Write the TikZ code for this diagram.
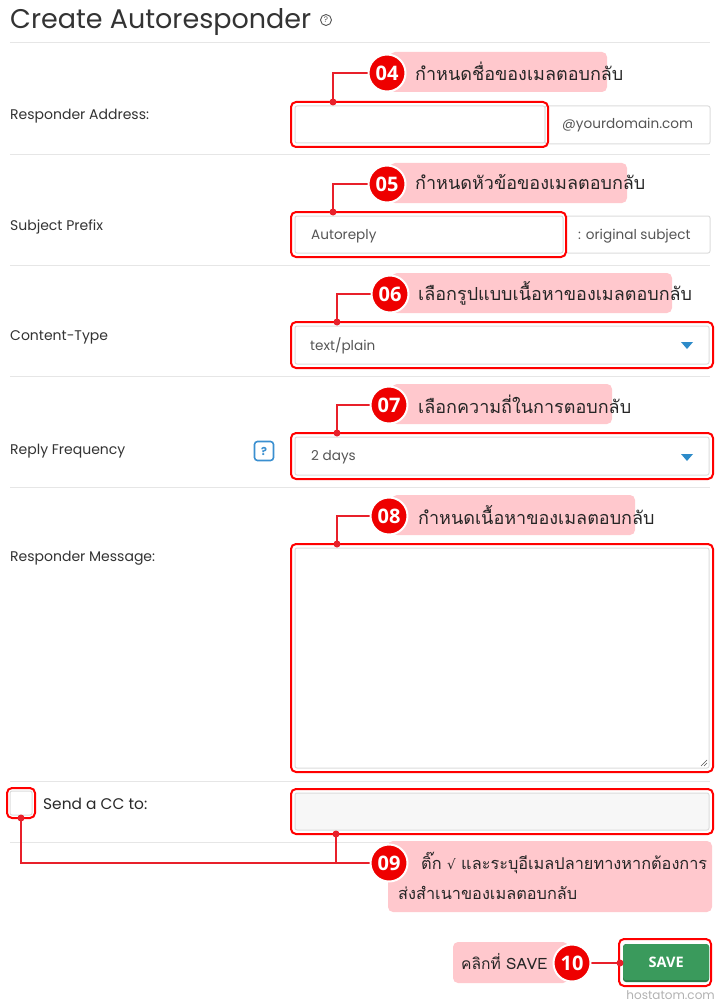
\documentclass[tikz,border=0pt]{standalone}
\usepackage{fontspec}
\setmainfont{Poppins}
\newfontfamily\lab{Poppins}
\newfontfamily\thai[Script=Thai]{Loma}
\newfontfamily\dejavu{DejaVu Sans}
\newfontfamily\numf{Open Sans}
\definecolor{txtgray}{HTML}{333333}
\definecolor{intext}{HTML}{555555}
\definecolor{sepgray}{HTML}{E6E6E6}
\definecolor{bordergray}{HTML}{DCDCDC}
\definecolor{hlred}{HTML}{FF0000}
\definecolor{numred}{HTML}{EE0000}
\definecolor{connred}{HTML}{E8202A}
\definecolor{pink1}{HTML}{FFC8CD}
\definecolor{caretblue}{HTML}{2D8BC9}
\definecolor{helpblue}{HTML}{3A8FD0}
\definecolor{savegreen}{HTML}{3A9A5C}
\definecolor{savedark}{HTML}{2B7A47}
\definecolor{ccfill}{HTML}{F7F7F7}
\begin{document}
\begin{tikzpicture}[x=1pt,y=-1pt,
  lbl/.style={anchor=west, inner sep=0, text=txtgray, font=\lab\fontsize{14}{16}\selectfont},
  intxt/.style={anchor=west, inner sep=0, text=intext, font=\lab\fontsize{13.6}{15}\selectfont},
  redbox/.style={draw=hlred, line width=2pt, rounded corners=5pt, anchor=north west, inner sep=0, outer sep=0},
  inputbox/.style={draw=bordergray, line width=1pt, rounded corners=2pt, fill=white, anchor=north west, inner sep=0, outer sep=0},
  pinkbox/.style={fill=pink1, rounded corners=5pt, anchor=north west, inner sep=0, outer sep=0},
  thaitxt/.style={anchor=west, inner sep=0, text=black!85, font=\thai\fontsize{18}{20}\selectfont},
  thaism/.style={anchor=west, inner sep=0, text=black!85, font=\thai\fontsize{16.3}{18}\selectfont},
  numc/.style={circle, fill=numred, draw=white, line width=2pt, minimum size=37pt, inner sep=0, text=white, font=\numf\bfseries\fontsize{20}{20}\selectfont},
  conn/.style={draw=connred, line width=1.6pt},
  dotn/.style={circle, fill=connred, minimum size=7pt, inner sep=0},
  sep/.style={draw=sepgray, line width=1pt},
  caret/.style={fill=caretblue}
]
\useasboundingbox (0,0) rectangle (720,1003);
\fill[white] (0,0) rectangle (720,1003);

% title
\node[anchor=base west, inner sep=0, text=txtgray, font=\lab\fontsize{27}{30}\selectfont] (title) at (10,29) {Create Autoresponder};
\node[circle, draw=intext, line width=0.9pt, minimum size=11pt, inner sep=0, text=intext, font=\lab\fontsize{8}{8}\selectfont] (thelp) at (326,20) {?};

% separators
\coordinate (s0l) at (10,43); \coordinate (s0r) at (710,43);
\coordinate (s1l) at (10,155); \coordinate (s1r) at (710,155);
\coordinate (s2l) at (10,265); \coordinate (s2r) at (710,265);
\coordinate (s3l) at (10,376); \coordinate (s3r) at (710,376);
\coordinate (s4l) at (10,487); \coordinate (s4r) at (710,487);
\coordinate (s5l) at (10,781); \coordinate (s5r) at (710,781);
\coordinate (s6l) at (10,842); \coordinate (s6r) at (710,842);
\foreach \i in {0,...,6} {\draw[sep] (s\i l) -- (s\i r);}

% labels
\node[lbl] (l1) at (10,116) {Responder Address:};
\node[lbl] (l2) at (10,227) {Subject Prefix};
\node[lbl] (l3) at (10,337) {Content-Type};
\node[lbl] (l4) at (10,451) {Reply Frequency};
\node[lbl] (l5) at (10,558) {Responder Message:};
\node[anchor=west, inner sep=0, text=txtgray!80!black, font=\lab\fontsize{15.4}{17}\selectfont] (l6) at (43,804) {Send a CC to:};

% help icon
\node[draw=helpblue, line width=1.6pt, rounded corners=3pt, minimum width=19pt, minimum height=19pt, inner sep=0, text=helpblue, font=\lab\bfseries\fontsize{11}{11}\selectfont] (help) at (264,451) {?};

% row 1 inputs
\node[inputbox, minimum width=250pt, minimum height=37pt] (in1) at (295,106) {};
\node[inputbox, minimum width=165pt, minimum height=38pt] (ad1) at (545,106) {};
\node[intxt] (ad1t) at (562,125) {@yourdomain.com};
% row 2
\node[inputbox, minimum width=268pt, minimum height=37pt] (in2) at (295,216) {};
\node[inputbox, minimum width=144pt, minimum height=37pt] (ad2) at (566,216) {};
\node[intxt] (ad2t) at (578,236) {: original subject};
\node[intxt] (in2t) at (311,236) {Autoreply};
% row 3
\node[inputbox, minimum width=414pt, minimum height=38pt] (in3) at (295,326) {};
\node[intxt] (in3t) at (310,346) {text/plain};
\fill[caret] (681,342) -- (693,342) -- (687,349) -- cycle;
% row 4
\node[inputbox, minimum width=414pt, minimum height=38pt] (in4) at (295,437) {};
\node[intxt] (in4t) at (311,457) {2 days};
\fill[caret] (681,454) -- (693,454) -- (687,461) -- cycle;
% row 5
\node[inputbox, minimum width=414pt, minimum height=220pt] (in5) at (295,548) {};
\draw[intext, line width=0.6pt] (701,766) -- (707,760) (704,766) -- (707,763);
% row 6
\node[inputbox, minimum width=22pt, minimum height=24pt] (cbin) at (10,791) {};
\node[inputbox, fill=ccfill, minimum width=414pt, minimum height=37pt] (in6) at (295,793) {};

% red highlight boxes
\node[redbox, minimum width=257pt, minimum height=45pt] (r1) at (291,102) {};
\node[redbox, minimum width=275pt, minimum height=45pt] (r2) at (291,212) {};
\node[redbox, minimum width=422pt, minimum height=46pt] (r3) at (291,322) {};
\node[redbox, minimum width=422pt, minimum height=46pt] (r4) at (291,433) {};
\node[redbox, minimum width=422pt, minimum height=228pt] (r5) at (291,544) {};
\node[redbox, minimum width=28pt, minimum height=30pt] (rcb) at (7,788) {};
\node[redbox, minimum width=422pt, minimum height=45pt] (r6) at (291,789) {};

% save button
\node[redbox, minimum width=92pt, minimum height=47pt] (rsave) at (619,939) {};
\fill[savedark, rounded corners=3pt] (623,944) rectangle (709,982);
\node[fill=savegreen, rounded corners=3pt, anchor=north west, minimum width=86pt, minimum height=36pt, inner sep=0, text=white, font=\numf\bfseries\fontsize{14.5}{15}\selectfont] (save) at (623,944) {SAVE};

% pink callouts
\node[pinkbox, minimum width=217pt, minimum height=40pt] (p4) at (390,52) {};
\node[pinkbox, minimum width=237pt, minimum height=40pt] (p5) at (390,163) {};
\node[pinkbox, minimum width=280pt, minimum height=40pt] (p6) at (392,273) {};
\node[pinkbox, minimum width=220pt, minimum height=40pt] (p7) at (392,384) {};
\node[pinkbox, minimum width=243pt, minimum height=40pt] (p8) at (392,495) {};
\node[pinkbox, minimum width=324pt, minimum height=71pt] (p9) at (388,841) {};
\node[pinkbox, minimum width=115pt, minimum height=41pt] (p10) at (453,942) {};

\node[thaitxt] (t4) at (415,71) {กำหนดชื่อของเมลตอบกลับ};
\node[thaitxt] (t5) at (415,182) {กำหนดหัวข้อของเมลตอบกลับ};
\node[thaitxt] (t6) at (418,293) {เลือกรูปแบบเนื้อหาของเมลตอบกลับ};
\node[thaitxt] (t7) at (418,404) {เลือกความถี่ในการตอบกลับ};
\node[thaitxt] (t8) at (418,515) {กำหนดเนื้อหาของเมลตอบกลับ};
\node[thaism] (t9a) at (421,863) {ติ๊ก {\dejavu\fontsize{13.5}{15}\selectfont √} และระบุอีเมลปลายทางหากต้องการ};
\node[thaism] (t9b) at (398,893) {ส่งสำเนาของเมลตอบกลับ};
\node[thaism, font=\thai\fontsize{15.6}{17}\selectfont] (t10) at (461,962) {คลิกที่ SAVE};

% connector anchor points
\coordinate (d4) at (333,102);
\coordinate (d5) at (333,212);
\coordinate (d6) at (337,322);
\coordinate (d7) at (337,433);
\coordinate (d8) at (337,544);
\coordinate (dcb) at (21,818);
\coordinate (dcc) at (336,834);
\coordinate (j9) at (336,863);
\coordinate (d10) at (620,963);
\coordinate (c4p) at (387,73);
\coordinate (c5p) at (387,184);
\coordinate (c6p) at (390,294);
\coordinate (c7p) at (389,405);
\coordinate (c8p) at (389,516);
\coordinate (c9p) at (389,863);
\coordinate (c10p) at (572,963);

\draw[conn] (c4p) -| (d4);
\draw[conn] (c5p) -| (d5);
\draw[conn] (c6p) -| (d6);
\draw[conn] (c7p) -| (d7);
\draw[conn] (c8p) -| (d8);
\draw[conn] (dcb) |- (c9p);
\draw[conn] (dcc) -- (j9);
\draw[conn] (c10p) -- (d10);

\node[numc] (c4) at (c4p) {04};
\node[numc] (c5) at (c5p) {05};
\node[numc] (c6) at (c6p) {06};
\node[numc] (c7) at (c7p) {07};
\node[numc] (c8) at (c8p) {08};
\node[numc] (c9) at (c9p) {09};
\node[numc] (c10) at (c10p) {10};

\foreach \d in {d4,d5,d6,d7,d8,dcb,dcc,d10} {\node[dotn] at (\d) {};}

\node[anchor=east, inner sep=0, text=black!30, font=\lab\fontsize{12}{12}\selectfont] (brand) at (715,995) {hostatom.com};
\end{tikzpicture}
\end{document}
